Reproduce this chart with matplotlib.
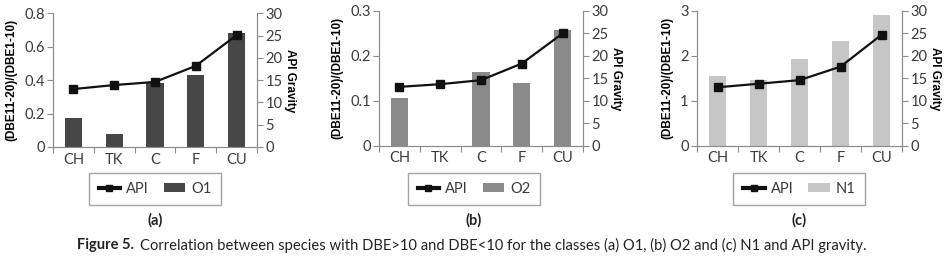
import matplotlib.pyplot as plt
from matplotlib.lines import Line2D
from matplotlib.patches import Patch

crudes = ['CH', 'TK', 'C', 'F', 'CU']

api_a = [13.0, 13.9, 14.6, 18.2, 25.1]
api_b = [13.1, 13.7, 14.6, 18.3, 25.0]
api_c = [13.0, 13.8, 14.6, 17.6, 24.7]

o1 = [0.175, 0.078, 0.383, 0.433, 0.682]
o2 = [0.107, 0.0, 0.165, 0.140, 0.258]
n1 = [1.55, 1.46, 1.93, 2.33, 2.91]

panels = [
    ('O1', o1, api_a, '#474747', 0.8, [0, 0.2, 0.4, 0.6, 0.8], ['0', '0.2', '0.4', '0.6', '0.8'], '(a)'),
    ('O2', o2, api_b, '#8a8a8a', 0.3, [0, 0.1, 0.2, 0.3], ['0', '0.1', '0.2', '0.3'], '(b)'),
    ('N1', n1, api_c, '#c6c6c6', 3, [0, 1, 2, 3], ['0', '1', '2', '3'], '(c)'),
]

# axes boxes in pixels: left, right, top, bottom
boxes = [(53, 257, 13.3, 147), (379, 583, 11, 145.7), (697, 902, 11, 145.7)]
legend_x = [155, 474, 799]

W, H = 946, 257
plt.rcParams['font.family'] = ['Lato', 'DejaVu Sans']
fig = plt.figure(figsize=(W / 100, H / 100), dpi=100)

spine_c = '#8c8c8c'
text_c = '#3a3a3a'
x = list(range(len(crudes)))

for (name, vals, api, col, ymax, yt, ytl, tag), (l, r, t, b), lx in zip(panels, boxes, legend_x):
    ax = fig.add_axes([l / W, 1 - b / H, (r - l) / W, (b - t) / H])
    ax.bar(x, vals, width=0.42, color=col, zorder=2)
    ax.set_xlim(-0.5, 4.5)
    ax.set_ylim(0, ymax)
    ax.set_yticks(yt)
    ax.set_yticklabels(ytl)
    ax.set_xticks([i - 0.5 for i in range(6)])
    ax.set_xticklabels([])
    ax.set_xticks(x, minor=True)
    ax.set_xticklabels(crudes, minor=True)
    ax.tick_params(axis='x', which='major', length=4, color=spine_c)
    ax.tick_params(axis='x', which='minor', length=0, pad=4, labelsize=10.5, labelcolor=text_c)
    ax.tick_params(axis='y', length=4, color=spine_c, labelsize=10.5, labelcolor=text_c, pad=2)
    ax.set_ylabel('(DBE11-20)/(DBE1-10)', fontsize=8.5, fontweight='bold',
                  family='Liberation Sans', labelpad=5)
    for s in ['left', 'bottom', 'right']:
        ax.spines[s].set_color(spine_c)
    ax.spines['top'].set_visible(False)

    ax2 = ax.twinx()
    ax2.plot(x, api, color='#111111', lw=1.6, marker='s', ms=6, zorder=3)
    ax2.set_ylim(0, 30)
    ax2.set_yticks([0, 5, 10, 15, 20, 25, 30])
    ax2.tick_params(axis='y', length=4, color=spine_c, labelsize=10.5, labelcolor=text_c, pad=2)
    ax2.set_ylabel('API Gravity', fontsize=8.5, fontweight='bold', family='Liberation Sans',
                   rotation=-90, labelpad=10)
    for s in ['left', 'bottom', 'right']:
        ax2.spines[s].set_color(spine_c)
    ax2.spines['top'].set_visible(False)

    handles = [Line2D([], [], color='#111111', lw=3, marker='s', ms=5),
               Patch(facecolor=col)]
    leg = fig.legend(handles, ['API', name], loc='center', ncol=2,
                     bbox_to_anchor=(lx / W, 1 - 189 / H), frameon=True, fancybox=False,
                     fontsize=10.5, handlelength=1.5, handleheight=0.6, columnspacing=1.0,
                     handletextpad=0.4, borderpad=0.65, borderaxespad=0)
    leg.get_frame().set_edgecolor(spine_c)
    leg.get_frame().set_linewidth(1.0)
    for txt in leg.get_texts():
        txt.set_color(text_c)
    fig.text(lx / W, 1 - 220 / H, tag, ha='center', va='center', fontsize=10.5,
             fontweight='bold', color='#222222')

fig.text(77 / W, 1 - 245 / H, 'Figure 5.', ha='left', va='center', fontsize=10.5,
         fontweight='bold', color='#222222')
fig.text(140 / W, 1 - 245 / H,
         'Correlation between species with DBE>10 and DBE<10 for the classes (a) O1, (b) O2 and (c) N1 and API gravity.',
         ha='left', va='center', fontsize=10.6, color='#222222')

fig.savefig('out.png', dpi=100)
